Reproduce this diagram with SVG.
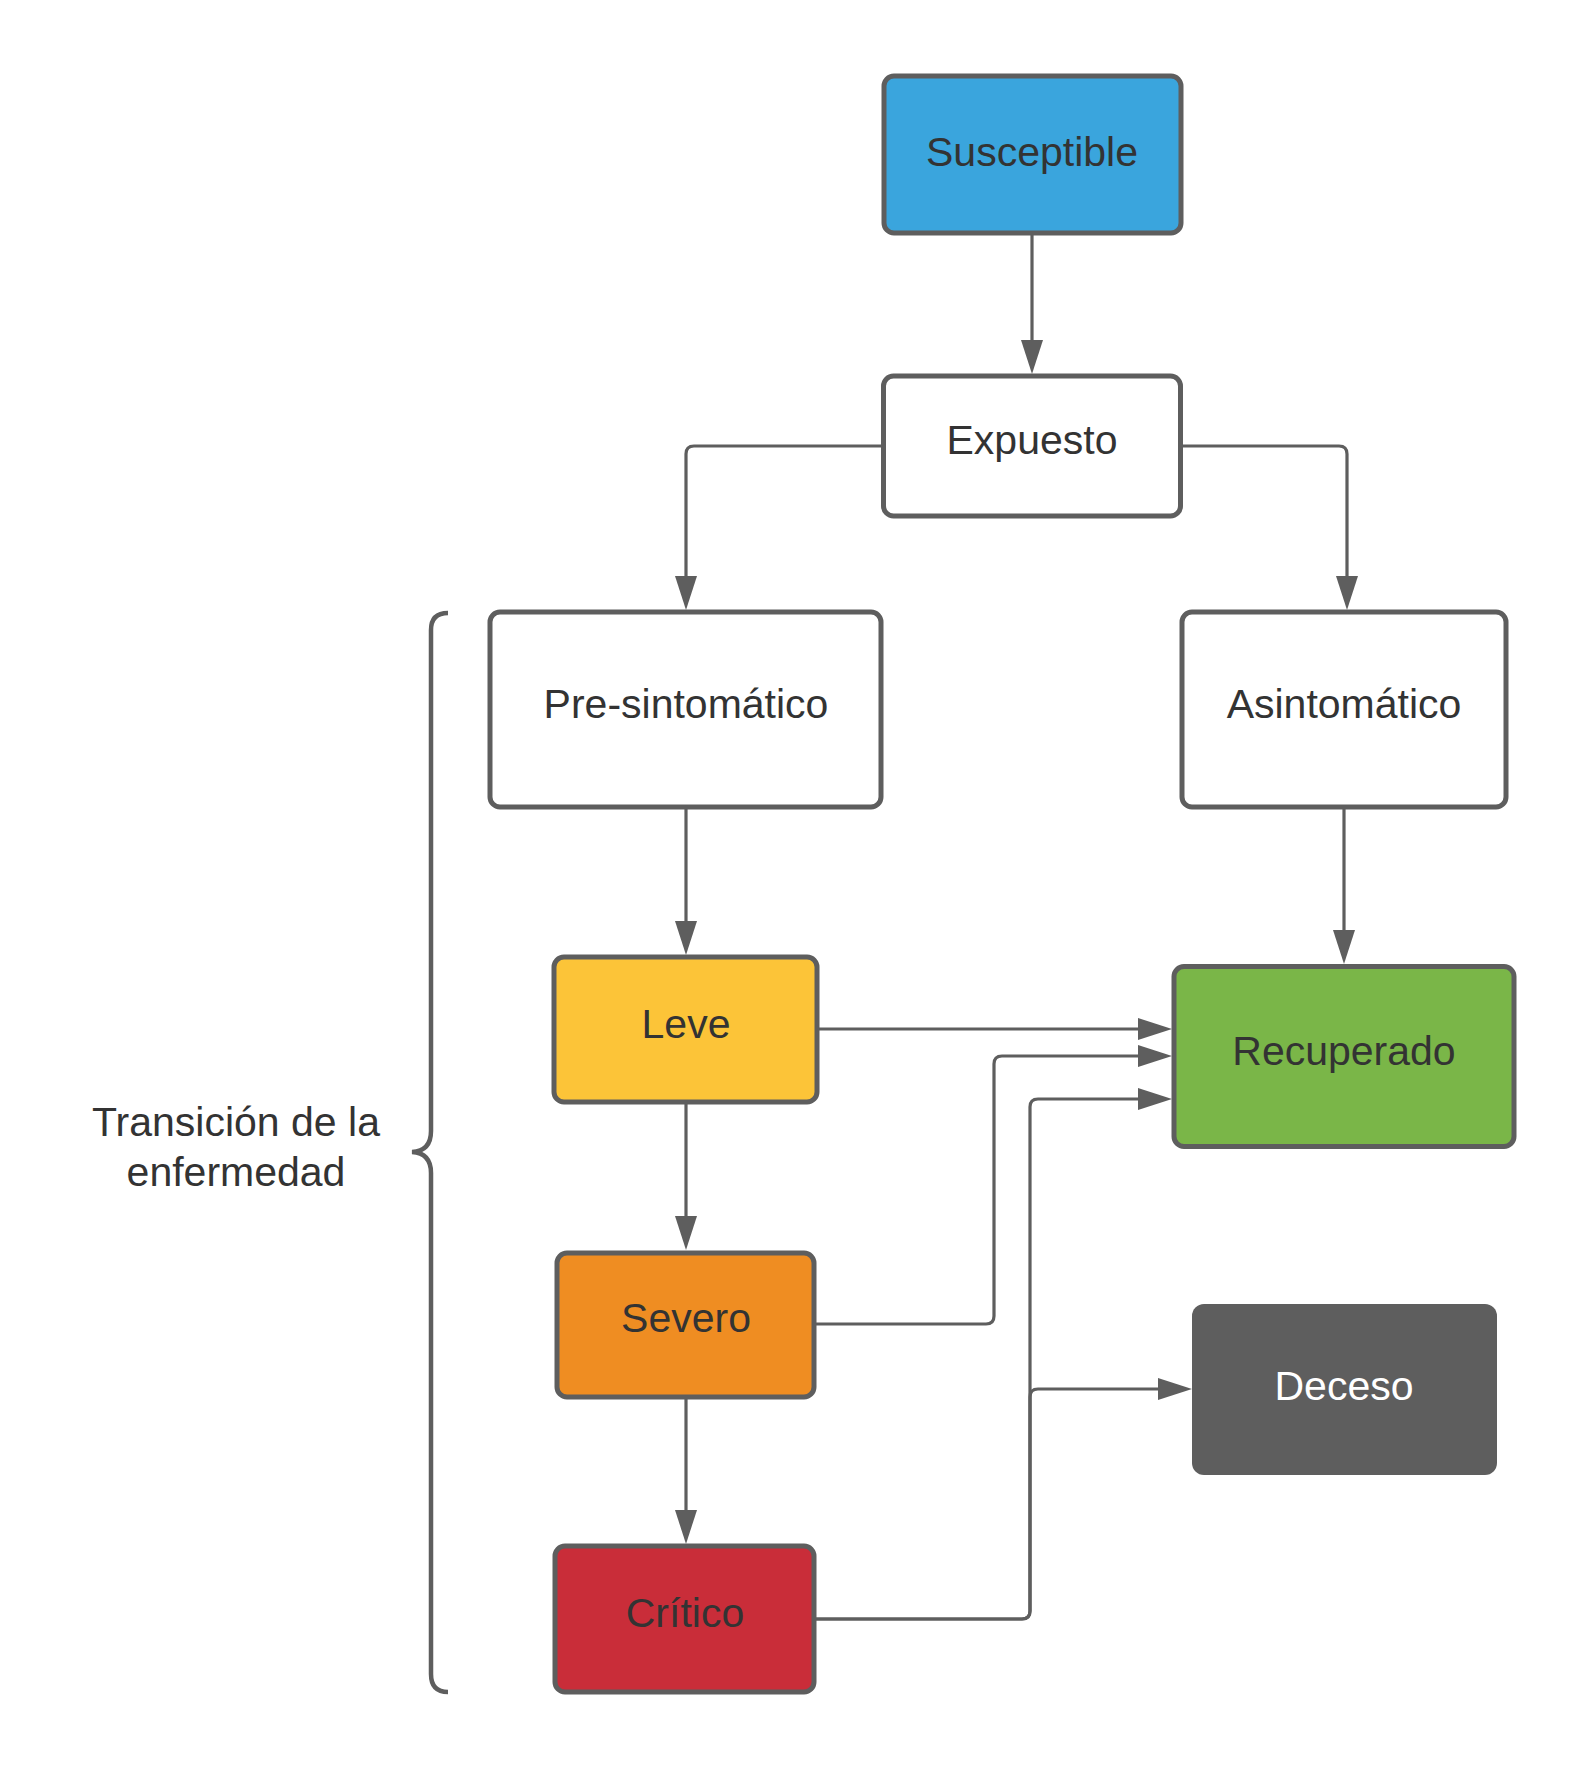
<svg xmlns="http://www.w3.org/2000/svg" width="1590" height="1768" viewBox="0 0 1590 1768">
<style>
.box{stroke:#5e5e5e;stroke-width:5}
.lbl{font-family:"Liberation Sans",Arial,sans-serif;font-size:41px;fill:#333333;text-anchor:middle}
.conn{fill:none;stroke:#5e5e5e;stroke-width:3.2}
.brace{fill:none;stroke:#5e5e5e;stroke-width:4.5}
</style>
<defs>
<marker id="arr" markerUnits="userSpaceOnUse" markerWidth="34" markerHeight="22" refX="0" refY="11" orient="auto" overflow="visible">
<path d="M0,0 L34,11 L0,22 Z" fill="#5e5e5e"/>
</marker>
</defs>
<rect width="1590" height="1768" fill="#ffffff"/>

<g id="connectors">
<path class="conn" marker-end="url(#arr)" d="M1032,235 L1032,340"/>
<path class="conn" marker-end="url(#arr)" d="M881,446 L694,446 Q686,446 686,454 L686,576"/>
<path class="conn" marker-end="url(#arr)" d="M1183,446 L1339,446 Q1347,446 1347,454 L1347,576"/>
<path class="conn" marker-end="url(#arr)" d="M686,809 L686,921"/>
<path class="conn" marker-end="url(#arr)" d="M1344,809 L1344,930"/>
<path class="conn" marker-end="url(#arr)" d="M686,1104 L686,1216"/>
<path class="conn" marker-end="url(#arr)" d="M686,1399 L686,1510"/>
<path class="conn" marker-end="url(#arr)" d="M819,1029 L1138,1029"/>
<path class="conn" marker-end="url(#arr)" d="M816,1324 L986,1324 Q994,1324 994,1316 L994,1064 Q994,1056 1002,1056 L1138,1056"/>
<path class="conn" marker-end="url(#arr)" d="M816,1619 L1022,1619 Q1030,1619 1030,1611 L1030,1107 Q1030,1099 1038,1099 L1138,1099"/>
<path class="conn" marker-end="url(#arr)" d="M816,1619 L1022,1619 Q1030,1619 1030,1611 L1030,1397 Q1030,1389 1038,1389 L1158,1389"/>
</g>

<g id="brace">
<path class="brace" d="M448,613 Q431,613 431,630 L431,1131 Q431,1151 412,1152 Q431,1153 431,1173 L431,1674 Q431,1692 448,1692"/>
<text class="lbl" x="236" y="1136">Transición de la</text>
<text class="lbl" x="236" y="1186">enfermedad</text>
</g>

<g id="susceptible">
<rect class="box" x="884" y="76" width="297" height="157" rx="10" fill="#3aa5dd"/>
<text class="lbl" x="1032" y="166">Susceptible</text>
</g>

<g id="expuesto">
<rect class="box" x="883.5" y="376" width="297" height="140" rx="10" fill="#ffffff"/>
<text class="lbl" x="1032" y="454">Expuesto</text>
</g>

<g id="presintomatico">
<rect class="box" x="490" y="612" width="391" height="195" rx="10" fill="#ffffff"/>
<text class="lbl" x="686" y="718">Pre-sintomático</text>
</g>

<g id="asintomatico">
<rect class="box" x="1182" y="612" width="324" height="195" rx="10" fill="#ffffff"/>
<text class="lbl" x="1344" y="718">Asintomático</text>
</g>

<g id="leve">
<rect class="box" x="554" y="957" width="263" height="145" rx="10" fill="#fcc438"/>
<text class="lbl" x="686" y="1038">Leve</text>
</g>

<g id="recuperado">
<rect class="box" x="1174" y="966.5" width="340" height="180" rx="10" fill="#7ab648"/>
<text class="lbl" x="1344" y="1065">Recuperado</text>
</g>

<g id="severo">
<rect class="box" x="557" y="1253" width="257" height="144" rx="10" fill="#ef8d22"/>
<text class="lbl" x="686" y="1332">Severo</text>
</g>

<g id="deceso">
<rect x="1192" y="1304" width="305" height="171" rx="12" fill="#5e5e5e"/>
<text class="lbl" x="1344" y="1400" style="fill:#ffffff">Deceso</text>
</g>

<g id="critico">
<rect class="box" x="555" y="1546" width="259" height="146" rx="10" fill="#c92d39"/>
<text class="lbl" x="685" y="1627">Crítico</text>
</g>
</svg>
